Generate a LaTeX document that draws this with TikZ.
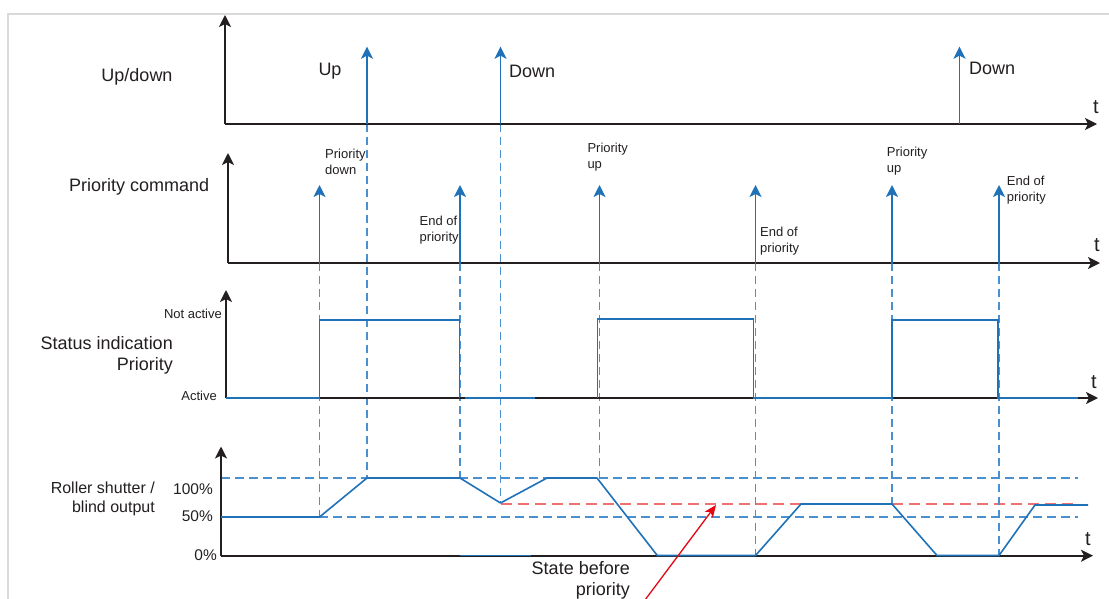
\documentclass[tikz,border=0pt]{standalone}
\usepackage{fontspec}
\setmainfont{Liberation Sans}
\usetikzlibrary{arrows.meta}
\definecolor{sig}{HTML}{1F72B8}
\definecolor{dsh}{HTML}{4A8FD0}
\definecolor{ax}{HTML}{231F20}
\definecolor{txt}{HTML}{231F20}
\definecolor{rd}{HTML}{E30613}
\definecolor{rdd}{HTML}{EE7070}
\definecolor{framec}{HTML}{D9D9D9}
\begin{document}
\begin{tikzpicture}[x=1pt,y=-1pt,
 axis/.style={ax,line width=1.6pt,-{Stealth[length=12pt,width=12pt,inset=3pt]}},
 sigarrow/.style={sig,line width=1.8pt,-{Stealth[length=12pt,width=12pt,inset=3pt]}},
 sigline/.style={sig,line width=1.6pt},
 vdash/.style={dsh,line width=1.2pt,dash pattern=on 8pt off 5pt},
 hdash/.style={dsh,line width=1.2pt,dash pattern=on 9pt off 5pt},
 rdash/.style={rdd,line width=1.4pt,dash pattern=on 11pt off 6pt},
 big/.style={font=\fontsize{18}{21}\selectfont,text=txt,inner sep=0pt},
 mid/.style={font=\fontsize{15.5}{19}\selectfont,text=txt,inner sep=0pt},
 small/.style={font=\fontsize{13}{16}\selectfont,text=txt,inner sep=0pt,align=left},
 tlab/.style={font=\fontsize{20}{22}\selectfont,text=txt,inner sep=0pt,anchor=north}
]
\useasboundingbox (0,0) rectangle (1109,598);
\clip (0,0) rectangle (1109,598);
\fill[white] (0,0) rectangle (1109,598);
% frame
\draw[framec,line width=2pt] (8,600) -- (8,14) -- (1112,14);

% ---------- coordinates
% axes
\coordinate (o1) at (225,124); \coordinate (y1) at (225,15); \coordinate (x1) at (1097,124);
\coordinate (o2) at (228,263); \coordinate (y2) at (228,153); \coordinate (x2) at (1100,263);
\coordinate (o3) at (226,398); \coordinate (y3) at (226,290); \coordinate (x3) at (1098,398);
\coordinate (o4) at (221,555.7); \coordinate (y4) at (221,446.5); \coordinate (x4) at (1093,555.7);

% ---------- dashed guides
\draw[hdash] (221,478) -- (1078,478);
\draw[hdash] (221,517) -- (1078,517);
\draw[rdash] (500.5,504) -- (1075,504);

\draw[vdash] (319.5,263) -- (319.5,517);
\draw[vdash] (367,124) -- (367,478);
\draw[vdash] (460,263) -- (460,478);
\draw[vdash] (500.5,124) -- (500.5,503);
\draw[vdash] (599.5,263) -- (599.5,478);
\draw[vdash] (755.5,263) -- (755.5,555);
\draw[vdash] (892,263) -- (892,504);
\draw[vdash] (999,263) -- (999,555);

% ---------- axes
\draw[axis] (o1) -- (y1);
\draw[axis] (o1) -- (x1);
\draw[axis] (o2) -- (y2);
\draw[axis] (o2) -- (x2);
\draw[axis] (o3) -- (y3);
\draw[axis] (o3) -- (x3);
\draw[axis] (o4) -- (y4);
\draw[axis] (o4) -- (x4);

\node[tlab] (t1) at (1096,100) {t};
\node[tlab] (t2) at (1097,238) {t};
\node[tlab] (t3) at (1094,375) {t};
\node[tlab] (t4) at (1088,532) {t};

% ---------- up/down commands
\coordinate (ub) at (367,124);   \coordinate (ut) at (367,46.7);
\coordinate (db) at (500.5,124); \coordinate (dt) at (500.5,46.7);
\coordinate (eb) at (959.5,124); \coordinate (et) at (959.5,46.7);
\draw[sigarrow] (ub) -- (ut);
\draw[sigarrow] (db) -- (dt);
\draw[sigarrow] (eb) -- (et);

% ---------- priority commands
\foreach \n/\x in {a/319.5,b/460,c/599.5,d/755.5,e/892,f/999}{
  \coordinate (p\n b) at (\x,264);
  \coordinate (p\n t) at (\x,185);
  \draw[sigarrow] (p\n b) -- (p\n t);
}

% ---------- status indication
\draw[sigline] (226,398) -- (319.5,398) -- (319.5,320) -- (459.5,320) -- (459.5,398);
\draw[sigline] (465,398) -- (535,398);
\draw[sigline] (597.5,398) -- (597.5,319) -- (753.5,319) -- (753.5,398) -- (892,398) -- (892,320) -- (998,320) -- (998,398) -- (1078,398);

% ---------- roller shutter output
\draw[sigline,line join=round] (221,517) -- (319.5,517) -- (367,478) -- (460,478) -- (500.5,503) -- (547,478) -- (597,478) -- (657.3,555.5) -- (755.5,555.5) -- (801,504) -- (892,504) -- (937,555.5) -- (999,555.5) -- (1035,505) -- (1088,505);
\draw[sigline] (460,555.5) -- (531,555.5);

% ---------- state before priority arrow
\coordinate (rs) at (640.5,606);
\coordinate (re) at (716,505);
\draw[rd,line width=1.3pt,-{Stealth[length=12pt,width=10pt,inset=3pt]}] (rs) -- (re);

% ---------- labels
\node[big,anchor=north] (l1) at (137,68) {Up/down};
\node[big,anchor=north west] (l2) at (69,178) {Priority command};
\node[big,anchor=north east,align=right] (l3) at (173,336) {Status indication\\Priority};
\node[font=\fontsize{16}{19}\selectfont,text=txt,inner sep=0pt,anchor=north east,align=right] (l4) at (155,481.7) {Roller shutter /\\blind output};

\node[big,anchor=north west] (lu) at (318.3,63.3) {Up};
\node[big,anchor=north west] (ld1) at (509,65) {Down};
\node[big,anchor=north west] (ld2) at (969,61.7) {Down};

\node[small,anchor=north west] (s1) at (325,149.3) {Priority\\down};
\node[small,anchor=north west] (s2) at (419.5,216) {End of\\priority};
\node[small,anchor=north west] (s3) at (587.3,143.3) {Priority\\up};
\node[small,anchor=north west] (s4) at (760,226.7) {End of\\priority};
\node[small,anchor=north west] (s5) at (886.7,146.7) {Priority\\up};
\node[small,anchor=north west] (s6) at (1006.7,176) {End of\\priority};

\node[small,anchor=north east] (na) at (222,309.3) {Not active};
\node[small,anchor=north east] (ac) at (217,390.7) {Active};

\node[mid,anchor=north east] (p100) at (213,483.3) {100\%};
\node[mid,anchor=north east] (p50) at (213,510) {50\%};
\node[mid,anchor=north east] (p0) at (217,549.3) {0\%};

\node[big,anchor=north east,align=right] (sb) at (630,561) {State before\\priority};
\end{tikzpicture}
\end{document}
